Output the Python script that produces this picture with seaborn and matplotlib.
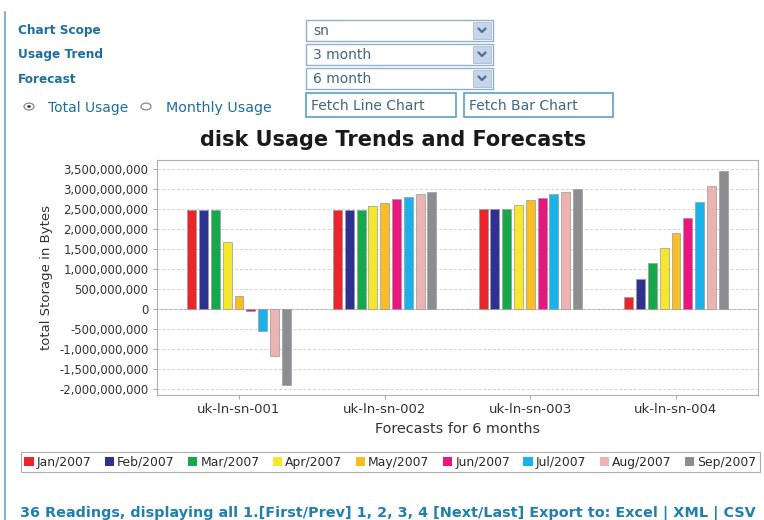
import numpy as np
import pandas as pd
import matplotlib
matplotlib.use("Agg")
import matplotlib.pyplot as plt
import seaborn as sns
from matplotlib.patches import Rectangle, Circle, Patch
from matplotlib.lines import Line2D
from matplotlib.ticker import FuncFormatter

# ── Data ──────────────────────────────────────────────────────────────────────
servers = ["uk-ln-sn-001", "uk-ln-sn-002", "uk-ln-sn-003", "uk-ln-sn-004"]
months = ["Jan/2007", "Feb/2007", "Mar/2007", "Apr/2007", "May/2007",
          "Jun/2007", "Jul/2007", "Aug/2007", "Sep/2007"]

sn001 = [2.47e9, 2.47e9, 2.47e9, 1.665e9, 0.33e9, -0.05e9, -0.556e9, -1.174e9, -1.908e9]
sn002 = [2.47e9, 2.47e9, 2.47e9, 2.574e9, 2.657e9, 2.74e9, 2.807e9, 2.874e9, 2.924e9]
sn003 = [2.50e9, 2.50e9, 2.50e9, 2.607e9, 2.724e9, 2.79e9, 2.866e9, 2.932e9, 3.00e9]
sn004 = [0.303e9, 0.738e9, 1.146e9, 1.514e9, 1.898e9, 2.265e9, 2.68e9, 3.08e9, 3.45e9]

colors = ["#e8262b", "#2e3192", "#17a84b", "#f7e62e", "#fbbd25",
          "#e8177f", "#19b2ea", "#edb3b2", "#8b8d91"]

yticks = np.arange(-2.0e9, 3.51e9, 0.5e9)

df = pd.DataFrame({
    "server": np.repeat(servers, len(months)),
    "month": months * len(servers),
    "bytes": sn001 + sn002 + sn003 + sn004,
})

W, H = 764, 520
BLUE = "#1e6f9f"
FORM_TXT = "#3f6683"


def fx(x):
    return x / W


def fy(y):
    return 1 - y / H


sns.set_theme(style="white")
plt.rcParams["font.family"] = ["DejaVu Sans"]

fig = plt.figure(figsize=(W / 100, H / 100), dpi=100)
fig.patch.set_facecolor("white")

# ── page furniture (form above the chart) ─────────────────────────────────────
fig.add_artist(Line2D([fx(4.5), fx(4.5)], [fy(12), fy(520)], color="#8db1cf", lw=1.5))

for label, y in [("Chart Scope", 30.5), ("Usage Trend", 54.5), ("Forecast", 79.5)]:
    fig.text(fx(17.5), fy(y), label, fontsize=8.7, fontweight="bold", color=BLUE,
             ha="left", va="center")

for opt, top in [("sn", 20), ("3 month", 44), ("6 month", 68)]:
    fig.add_artist(Rectangle((fx(306), fy(top + 21)), fx(187), 21 / H,
                             facecolor="white", edgecolor="#8fb0c8", lw=1))
    fig.add_artist(Rectangle((fx(473), fy(top + 19)), fx(18), 17 / H,
                             facecolor="#c6d6e8", edgecolor="#a9bfd6", lw=0.6))
    cx, cy = 482, top + 10.5
    fig.add_artist(Line2D([fx(cx - 3.5), fx(cx), fx(cx + 3.5)],
                          [fy(cy - 2), fy(cy + 1.5), fy(cy - 2)],
                          color="#4a6f97", lw=1.6))
    fig.text(fx(313), fy(top + 11), opt, fontsize=10, color=FORM_TXT,
             ha="left", va="center")

for lbl, x0, x1 in [("Fetch Line Chart", 306, 456), ("Fetch Bar Chart", 464, 613)]:
    fig.add_artist(Rectangle((fx(x0), fy(117)), fx(x1 - x0), 24 / H,
                             facecolor="white", edgecolor="#5b9fca", lw=1.2))
    fig.text(fx(x0 + 5), fy(105.5), lbl, fontsize=10, color=FORM_TXT,
             ha="left", va="center")

for cx, filled in [(29, True), (146, False)]:
    fig.add_artist(Circle((fx(cx), fy(106.5)), 5 / W, facecolor="white",
                          edgecolor="#8a8a8a", lw=0.9))
    if filled:
        fig.add_artist(Circle((fx(cx), fy(106.5)), 1.8 / W, facecolor="#222222",
                              edgecolor="none"))
fig.text(fx(47.5), fy(108), "Total Usage", fontsize=10, color=BLUE, ha="left", va="center")
fig.text(fx(166.5), fy(108), "Monthly Usage", fontsize=10.3, color=BLUE, ha="left", va="center")

# ── chart ─────────────────────────────────────────────────────────────────────
fig.text(fx(393.5), fy(140.5), "disk Usage Trends and Forecasts", fontsize=15,
         fontweight="bold", color="#1a1a1a", ha="center", va="center")

ax = fig.add_axes([fx(156.7), fy(395), fx(758.3 - 156.7), (395 - 160) / H])
sns.barplot(data=df, x="server", y="bytes", hue="month", palette=colors,
            saturation=1, width=0.73, gap=0.24, edgecolor="#9a9a9a", linewidth=0.5,
            legend=False, ax=ax)

ax.set_xlim(-0.565, 3.565)
ax.set_ylim(-2.16e9, 3.73e9)
ax.set_yticks(yticks)
ax.yaxis.set_major_formatter(FuncFormatter(lambda v, p: f"{v:,.0f}"))
ax.grid(axis="y", color="#d4d4d4", linestyle=(0, (3, 2)), lw=0.7)
ax.set_axisbelow(True)
ax.axhline(0, color="#b5b5b5", lw=0.8, zorder=0.5)
for s in ax.spines.values():
    s.set_color("#b0b0b0")
    s.set_linewidth(0.8)
ax.tick_params(axis="y", which="major", length=3, width=0.6, color="#999999",
               labelsize=8.4, labelcolor="#333333", pad=3, left=True)
ax.tick_params(axis="x", which="major", length=3, width=0.6, color="#999999",
               labelsize=9.5, labelcolor="#333333", pad=3, bottom=True)
ax.set_xlabel("Forecasts for 6 months", fontsize=10.4, color="#333333", labelpad=4)
ax.set_ylabel("total Storage in Bytes", fontsize=9.5, color="#333333", labelpad=4)

handles = [Patch(facecolor=c, edgecolor="none") for c in colors]
leg = fig.legend(handles, months, loc="lower left", ncol=9, mode="expand",
                 bbox_to_anchor=(fx(20.7), fy(472.3), fx(760 - 20.7), 19 / H),
                 fontsize=8.9, frameon=True, fancybox=False, borderpad=0.3,
                 handlelength=0.75, handleheight=0.75, handletextpad=0.25,
                 columnspacing=0.6, borderaxespad=0)
leg.get_frame().set_edgecolor("#9a9a9a")
leg.get_frame().set_linewidth(0.8)
for t in leg.get_texts():
    t.set_color("#2a2a2a")

fig.text(fx(20.5), fy(512.5),
         "36 Readings, displaying all 1.[First/Prev] 1, 2, 3, 4 [Next/Last] "
         "Export to: Excel | XML | CSV",
         fontsize=10.4, fontweight="bold", color="#1f80b0", ha="left", va="center")

fig.savefig("out.png", dpi=100, facecolor="white")
